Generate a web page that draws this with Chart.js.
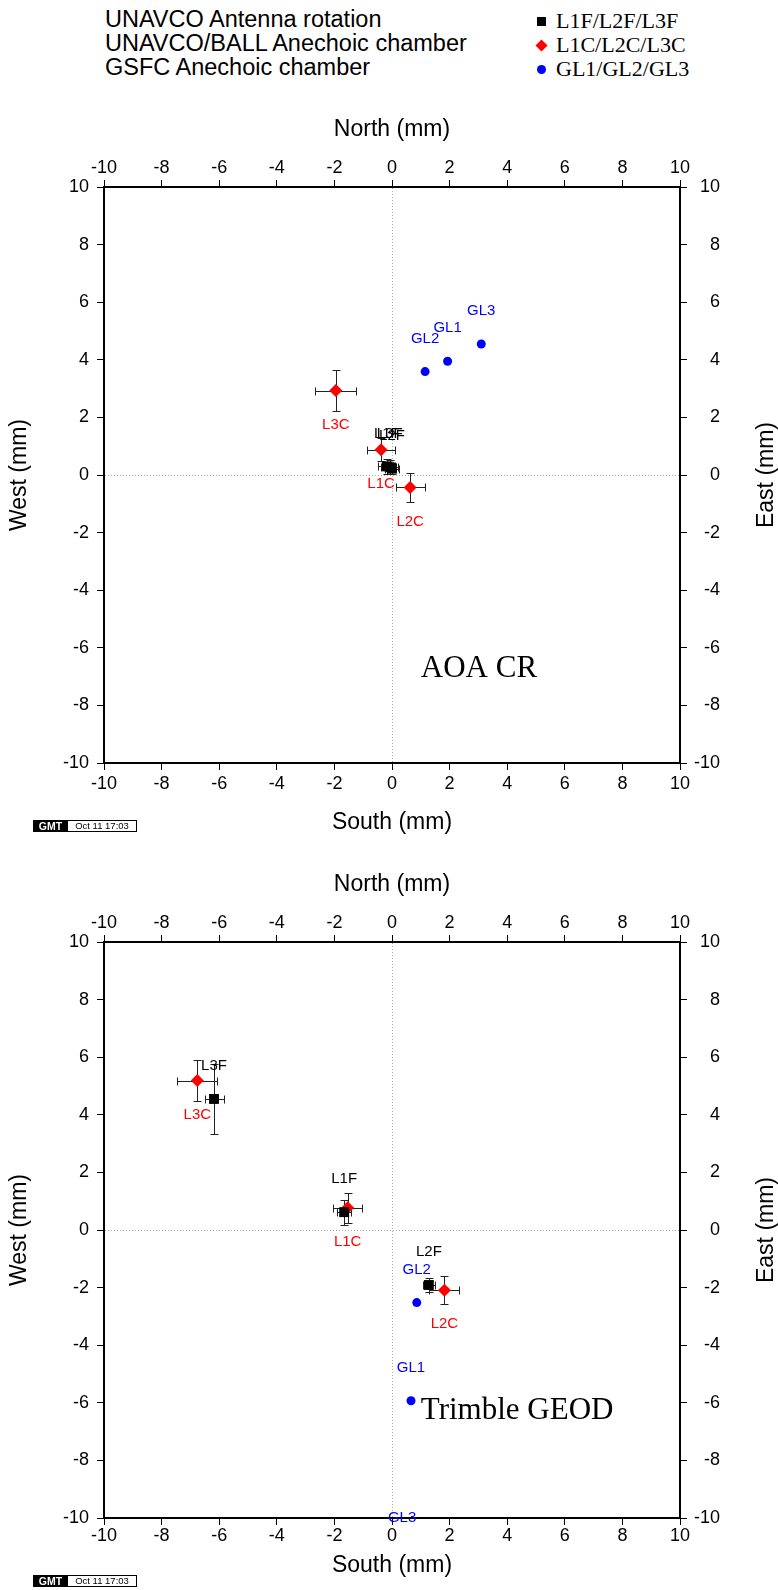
<!DOCTYPE html>
<html>
<head>
<meta charset="utf-8">
<script src="https://cdn.jsdelivr.net/npm/chart.js@4.4.1/dist/chart.umd.min.js"></script>
<style>
  html, body { margin: 0; padding: 0; background: #fff; }
  body { width: 778px; height: 1590px; position: relative; overflow: hidden;
         font-family: "Liberation Sans", Arial, sans-serif; color: #000; }
  canvas { position: absolute; left: 0; }
  #aoa { top: 90px; }
  #geod { top: 845px; }
  #srcLegend { position: absolute; left: 105px; top: 7px; font-size: 23.5px; line-height: 24px; white-space: nowrap; }
  #symLegend { position: absolute; left: 534px; top: 9px; font-family: "Liberation Serif", serif;
               font-size: 22px; line-height: 24px; white-space: nowrap; }
  #symLegend div { position: relative; padding-left: 22px; }
  .sym { position: absolute; left: 3px; top: 8px; width: 9px; height: 9px; }
  .gmt { position: absolute; left: 33px; height: 12px; display: flex; }
  .gmt b { background: #000; color: #fff; font-size: 10.5px; line-height: 12px; width: 35px; text-align: center; }
  .gmt span { border: 1px solid #000; border-left: none; height: 10px; line-height: 10px; font-size: 9.5px;
              width: 68px; text-align: center; }
</style>
</head>
<body>
<div id="srcLegend"></div>
<div id="symLegend"></div>
<canvas id="aoa" width="778" height="756"></canvas>
<canvas id="geod" width="778" height="745"></canvas>
<div class="gmt" style="top:820px"><b>GMT</b><span>Oct 11 17:03</span></div>
<div class="gmt" style="top:1575px"><b>GMT</b><span>Oct 11 17:03</span></div>

<script>
const sourceNames = ['UNAVCO Antenna rotation', 'UNAVCO/BALL Anechoic chamber', 'GSFC Anechoic chamber'];
const seriesNames = ['L1F/L2F/L3F', 'L1C/L2C/L3C', 'GL1/GL2/GL3'];
const tickValues = [-10, -8, -6, -4, -2, 0, 2, 4, 6, 8, 10];

const freqNames = ['L1F', 'L2F', 'L3F'];
const chamberNames = ['L1C', 'L2C', 'L3C'];
const gsfcNames = ['GL1', 'GL2', 'GL3'];

// AOA CR  (x = north, y = west, mm)
const aoaFreqNorth = [-0.18, 0.0, -0.08];
const aoaFreqWest = [0.3, 0.22, 0.27];
const aoaFreqNorthErr = [0.3, 0.25, 0.3];
const aoaFreqWestErr = [0.25, 0.2, 0.25];
const aoaChamberNorth = [-0.38, 0.63, -1.95];
const aoaChamberWest = [0.88, -0.43, 2.93];
const aoaChamberNorthErr = [0.5, 0.5, 0.71];
const aoaChamberWestErr = [0.4, 0.5, 0.7];
const aoaGsfcNorth = [1.93, 1.15, 3.1];
const aoaGsfcWest = [3.95, 3.59, 4.55];

// Trimble GEOD
const geodFreqNorth = [-1.66, 1.28, -6.18];
const geodFreqWest = [0.62, -1.91, 4.55];
const geodFreqNorthErr = [0.25, 0.2, 0.33];
const geodFreqWestErr = [0.43, 0.25, 1.2];
const geodChamberNorth = [-1.54, 1.82, -6.76];
const geodChamberWest = [0.77, -2.09, 5.19];
const geodChamberNorthErr = [0.5, 0.52, 0.7];
const geodChamberWestErr = [0.52, 0.49, 0.7];
const geodGsfcNorth = [0.66, 0.86, 0.35];
const geodGsfcWest = [-5.93, -2.52, -11.15];

const SANS = '"Liberation Sans", Arial, sans-serif';
const SERIF = '"Liberation Serif", "Times New Roman", serif';

// legend at the top
document.getElementById('srcLegend').innerHTML = sourceNames.map(s => '<div>' + s + '</div>').join('');
const symCss = [
  'background:#000',
  'background:#f00;transform:rotate(45deg) scale(0.95)',
  'background:#00f;border-radius:50%'
];
document.getElementById('symLegend').innerHTML = seriesNames
  .map((s, i) => '<div><span class="sym" style="' + symCss[i] + '"></span>' + s + '</div>').join('');

const pts = (xs, ys) => xs.map((v, i) => ({ x: v, y: ys[i] }));

const markPlugin = {
  id: 'marks',
  beforeDatasetsDraw(chart) {
    const { ctx, chartArea: a, scales: { x, y } } = chart;
    ctx.save();
    ctx.strokeStyle = '#a8a8a8';
    ctx.lineWidth = 1;
    ctx.setLineDash([1, 2]);
    const x0 = Math.round(x.getPixelForValue(0)) + 0.5;
    const y0 = Math.round(y.getPixelForValue(0)) + 0.5;
    ctx.beginPath();
    ctx.moveTo(x0, a.top + 1); ctx.lineTo(x0, a.bottom - 1);
    ctx.moveTo(a.left + 1, y0); ctx.lineTo(a.right - 1, y0);
    ctx.stroke();
    ctx.setLineDash([]);

    ctx.beginPath();
    ctx.rect(a.left, a.top, a.width, a.height);
    ctx.clip();
    ctx.strokeStyle = '#222';
    const cap = 4;
    chart.data.datasets.forEach(ds => {
      if (!ds.errX) return;
      ds.data.forEach((p, i) => {
        const px = Math.round(x.getPixelForValue(p.x)) + 0.5;
        const py = Math.round(y.getPixelForValue(p.y)) + 0.5;
        const xl = Math.round(x.getPixelForValue(p.x - ds.errX[i])) + 0.5;
        const xr = Math.round(x.getPixelForValue(p.x + ds.errX[i])) + 0.5;
        const yt = Math.round(y.getPixelForValue(p.y + ds.errY[i])) + 0.5;
        const yb = Math.round(y.getPixelForValue(p.y - ds.errY[i])) + 0.5;
        ctx.beginPath();
        ctx.moveTo(xl, py); ctx.lineTo(xr, py);
        ctx.moveTo(xl, py - cap); ctx.lineTo(xl, py + cap);
        ctx.moveTo(xr, py - cap); ctx.lineTo(xr, py + cap);
        ctx.moveTo(px, yt); ctx.lineTo(px, yb);
        ctx.moveTo(px - cap, yt); ctx.lineTo(px + cap, yt);
        ctx.moveTo(px - cap, yb); ctx.lineTo(px + cap, yb);
        ctx.stroke();
      });
    });
    ctx.restore();
  },
  afterDatasetsDraw(chart) {
    const { ctx } = chart;
    ctx.save();
    ctx.font = '15px ' + SANS;
    ctx.textAlign = 'center';
    ctx.textBaseline = 'middle';
    chart.data.datasets.forEach((ds, di) => {
      const meta = chart.getDatasetMeta(di);
      ctx.fillStyle = ds.backgroundColor;
      meta.data.forEach((el, i) => {
        ctx.fillText(ds.names[i], el.x, el.y + ds.nameShift);
      });
    });
    ctx.restore();
  },
  afterDraw(chart, args, opts) {
    const { ctx, chartArea: a, scales: { x, y } } = chart;
    ctx.save();
    ctx.fillStyle = '#000';
    ctx.font = '23px ' + SANS;
    ctx.translate(767, (a.top + a.bottom) / 2);
    ctx.rotate(-Math.PI / 2);
    ctx.textAlign = 'center';
    ctx.textBaseline = 'middle';
    ctx.fillText('East (mm)', 0, 0);
    ctx.restore();

    ctx.save();
    ctx.fillStyle = '#000';
    ctx.font = '31px ' + SERIF;
    ctx.textAlign = 'left';
    ctx.textBaseline = 'alphabetic';
    ctx.fillText(opts.note, x.getPixelForValue(opts.noteAt[0]), y.getPixelForValue(opts.noteAt[1]));
    ctx.restore();
  }
};

function axis(position, extra) {
  const tickOpts = { font: { family: SANS, size: 18 }, color: '#000', autoSkip: false, maxRotation: 0, padding: 2 };
  return Object.assign({
    type: 'linear', position, min: -10, max: 10,
    afterBuildTicks: s => { s.ticks = tickValues.map(v => ({ value: v })); },
    grid: { drawOnChartArea: false, drawTicks: true, tickLength: 7, color: '#000', lineWidth: 1 },
    border: { display: true, color: '#000', width: 2 },
    title: { display: false }
  }, extra, { ticks: Object.assign(tickOpts, extra.ticks || {}) });
}

function makeChart(id, sets, note, noteAt, bottomTickPad, bottomTitlePad) {
  const canvas = document.getElementById(id);
  const H = canvas.height;
  const titleFont = { family: SANS, size: 23 };
  return new Chart(canvas, {
    type: 'scatter',
    data: {
      datasets: [
        {
          label: seriesNames[0], data: pts(sets.fN, sets.fW), names: freqNames, nameShift: -33,
          errX: sets.fNE, errY: sets.fWE,
          pointStyle: 'rect', pointRadius: 7, backgroundColor: '#000', borderColor: '#000', borderWidth: 0
        },
        {
          label: seriesNames[1], data: pts(sets.cN, sets.cW), names: chamberNames, nameShift: 34,
          errX: sets.cNE, errY: sets.cWE,
          pointStyle: 'rectRot', pointRadius: 6.5, backgroundColor: '#ff0000', borderColor: '#ff0000', borderWidth: 0
        },
        {
          label: seriesNames[2], data: pts(sets.gN, sets.gW), names: gsfcNames, nameShift: -33,
          pointStyle: 'circle', pointRadius: 4.5, backgroundColor: '#0000ff', borderColor: '#0000ff', borderWidth: 0
        }
      ]
    },
    options: {
      responsive: false,
      animation: false,
      devicePixelRatio: 1,
      events: [],
      layout: { padding: { left: 0, right: 58, top: 0, bottom: 0 } },
      plugins: {
        legend: { display: false },
        tooltip: { enabled: false },
        marks: { note, noteAt }
      },
      scales: {
        x: axis('bottom', {
          ticks: { padding: bottomTickPad },
          title: { display: true, text: 'South (mm)', color: '#000', font: titleFont, padding: { top: 0, bottom: bottomTitlePad } },
          afterFit: s => { s.height = H - 673; }
        }),
        x2: axis('top', {
          ticks: { padding: 1 },
          title: { display: true, text: 'North (mm)', color: '#000', font: titleFont, padding: { top: 26, bottom: 0 } },
          afterFit: s => { s.height = 97; }
        }),
        y: axis('left', {
          ticks: { padding: 8 },
          title: { display: true, text: 'West (mm)', color: '#000', font: titleFont, padding: { top: 6, bottom: 0 } },
          afterFit: s => { s.width = 104; }
        }),
        y2: axis('right', {
          ticks: { crossAlign: 'far' },
          afterFit: s => { s.width = 40; }
        })
      }
    },
    plugins: [markPlugin]
  });
}

makeChart('aoa', {
  fN: aoaFreqNorth, fW: aoaFreqWest, fNE: aoaFreqNorthErr, fWE: aoaFreqWestErr,
  cN: aoaChamberNorth, cW: aoaChamberWest, cNE: aoaChamberNorthErr, cWE: aoaChamberWestErr,
  gN: aoaGsfcNorth, gW: aoaGsfcWest
}, 'AOA CR', [1.0, -7.0], 3, 10);

makeChart('geod', {
  fN: geodFreqNorth, fW: geodFreqWest, fNE: geodFreqNorthErr, fWE: geodFreqWestErr,
  cN: geodChamberNorth, cW: geodChamberWest, cNE: geodChamberNorthErr, cWE: geodChamberWestErr,
  gN: geodGsfcNorth, gW: geodGsfcWest
}, 'Trimble GEOD', [1.0, -6.55], 0, 11);
</script>
</body>
</html>
